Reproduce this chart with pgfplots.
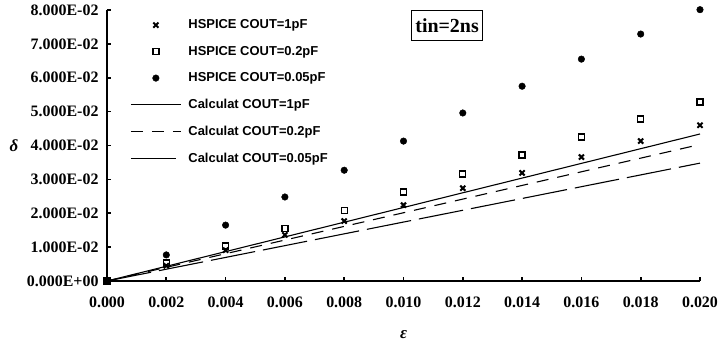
\documentclass[border=0pt]{standalone}
\usepackage{fontspec}
\setmainfont{Liberation Serif}
\newfontfamily\legfont{Liberation Sans}
\usepackage{pgfplots}
\pgfplotsset{compat=1.18}

\begin{document}
\begin{tikzpicture}
\begin{axis}[
  at={(0,0)}, anchor=south west,
  scale only axis, width=593bp, height=271bp,
  xmin=0, xmax=0.02, ymin=0, ymax=0.08,
  clip=false, scaled ticks=false,
  axis x line=bottom, axis y line=left,
  axis line style={-, line width=2.2bp},
  xtick={0,0.002,0.004,0.006,0.008,0.010,0.012,0.014,0.016,0.018,0.020},
  xticklabels={0.000,0.002,0.004,0.006,0.008,0.010,0.012,0.014,0.016,0.018,0.020},
  ytick={0,0.01,0.02,0.03,0.04,0.05,0.06,0.07,0.08},
  yticklabels={0.000E+00,1.000E-02,2.000E-02,3.000E-02,4.000E-02,5.000E-02,6.000E-02,7.000E-02,8.000E-02},
  tick align=inside, major tick length=4bp,
  tick style={line width=1.6bp, black},
  ticklabel style={font=\bfseries\fontsize{16}{16}\selectfont},
  xticklabel style={yshift=-12bp},
  yticklabel style={xshift=-5bp},
  xlabel={\bfseries\itshape ε},
  ylabel={\bfseries\itshape δ},
  xlabel style={at={(0.5,0)}, anchor=center, yshift=-54bp, font=\fontsize{17}{17}\selectfont},
  ylabel style={at={(0,0.5)}, anchor=center, rotate=-90, xshift=-93bp, font=\fontsize{17}{17}\selectfont},
  legend cell align=left,
  legend style={draw=none, fill=none, at={(0.039,0.972)}, anchor=north west,
    font=\legfont\bfseries\fontsize{13}{13}\selectfont, row sep=12bp, inner sep=0pt,
    /tikz/every odd column/.append style={column sep=5bp}},
  marklegend/.style={legend image code/.code={\draw[mark repeat=2,mark phase=2,##1] plot coordinates {(0bp,0bp) (25bp,0bp) (50bp,0bp)};}},
  linelegend/.style={legend image code/.code={\draw[##1] (0bp,0bp) -- (50bp,0bp);}},
]
% HSPICE simulations
\addplot[only marks, mark=x, mark size=3.6bp, line width=2bp, black, marklegend]
  coordinates {(0,0)(0.002,0.0045)(0.004,0.0091)(0.006,0.0136)(0.008,0.0177)(0.010,0.0224)
               (0.012,0.0274)(0.014,0.0319)(0.016,0.0366)(0.018,0.0413)(0.020,0.0460)};
\addlegendentry{HSPICE COUT=1pF}
\addplot[only marks, mark=square, mark size=3bp, line width=1.3bp, black, marklegend]
  coordinates {(0,0)(0.002,0.0053)(0.004,0.0103)(0.006,0.0156)(0.008,0.0209)(0.010,0.0263)
               (0.012,0.0316)(0.014,0.0372)(0.016,0.0425)(0.018,0.0478)(0.020,0.0528)};
\addlegendentry{HSPICE COUT=0.2pF}
\addplot[only marks, mark=*, mark size=3.3bp, black, marklegend]
  coordinates {(0,0)(0.002,0.0077)(0.004,0.0165)(0.006,0.0248)(0.008,0.0327)(0.010,0.0413)
               (0.012,0.0496)(0.014,0.0575)(0.016,0.0655)(0.018,0.0729)(0.020,0.0801)};
\addlegendentry{HSPICE COUT=0.05pF}
% calculated curves
\addplot[black, line width=1.1bp, linelegend] coordinates {(0,0)(0.020,0.0434)};
\addlegendentry{Calculat COUT=1pF}
\addplot[black, line width=1.1bp, dash pattern=on 12bp off 9bp, linelegend] coordinates {(0,0)(0.020,0.0403)};
\addlegendentry{Calculat COUT=0.2pF}
\addplot[black, line width=1.1bp, dash pattern=on 45bp off 8bp, linelegend] coordinates {(0,0)(0.020,0.0348)};
\addlegendentry{Calculat COUT=0.05pF}
\node[draw, line width=1bp, inner xsep=4bp, inner ysep=8bp, font=\bfseries\fontsize{20}{20}\selectfont]
  at (axis cs:0.01147,0.0755) {tin=2ns};
\end{axis}
\pgfresetboundingbox
\path[use as bounding box] (-107bp,-63bp) rectangle (614bp,281bp);
\end{tikzpicture}
\end{document}
